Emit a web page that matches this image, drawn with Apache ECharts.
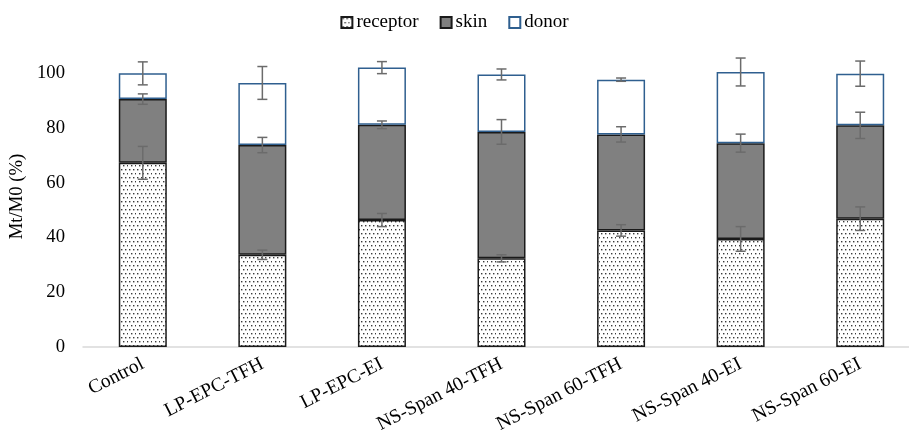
<!DOCTYPE html>
<html><head><meta charset="utf-8">
<script src="https://cdn.jsdelivr.net/npm/echarts@6/dist/echarts.min.js"></script>
<style>html,body{margin:0;padding:0;background:#fff}#c{width:909px;height:435px}</style>
</head><body><div id="c"></div>
<script>
const categories = ['Control','LP-EPC-TFH','LP-EPC-EI','NS-Span 40-TFH','NS-Span 60-TFH','NS-Span 40-EI','NS-Span 60-EI'];
const receptor = [67.3, 33.7, 46.4, 32.4, 42.6, 39.5, 46.9];
const skin     = [23.3, 40.1, 34.8, 46.2, 35.1, 35.0, 34.1];
const donor    = [9.4, 22.7, 20.9, 21.0, 20.0, 26.0, 18.9];
const receptorErr = [6.0, 1.7, 2.4, 1.3, 2.1, 4.5, 4.3];
const skinErr     = [1.9, 2.8, 1.4, 4.5, 2.8, 3.3, 4.8];
const donorErr    = [4.2, 6.0, 2.2, 2.0, 0.6, 5.1, 4.6];
const yTicks = [0, 20, 40, 60, 80, 100];

const FONT = "'Liberation Serif','Times New Roman',serif";

// dotted pattern for receptor
const pc = document.createElement('canvas');
pc.width = 8; pc.height = 8;
const pctx = pc.getContext('2d');
pctx.fillStyle = '#ffffff'; pctx.fillRect(0,0,8,8);
pctx.fillStyle = '#3a3a3a';
[[1,1],[5,1],[3,5],[7,5]].forEach(p => pctx.fillRect(p[0], p[1], 1.4, 1.4));
const dotPattern = { image: pc, repeat: 'repeat' };

function cum(arrs, i) { let s = 0; for (const a of arrs) s += a[i]; return s; }
function errData(arrs, err) {
  return categories.map((c, i) => [i, cum(arrs, i), err[i]]);
}
function errSeries(name, data) {
  return {
    type: 'custom', name: name + '_err', z: 10, silent: true,
    data: data,
    encode: { x: 0, y: 1 },
    renderItem: function (params, api) {
      const x = api.value(0), v = api.value(1), e = api.value(2);
      const hi = api.coord([x, v + e]);
      const lo = api.coord([x, v - e]);
      const w = 5;
      const st = { stroke: '#6b6b6b', lineWidth: 1.5 };
      return { type: 'group', children: [
        { type: 'line', shape: { x1: hi[0], y1: hi[1], x2: lo[0], y2: lo[1] }, style: st },
        { type: 'line', shape: { x1: hi[0]-w, y1: hi[1], x2: hi[0]+w, y2: hi[1] }, style: st },
        { type: 'line', shape: { x1: lo[0]-w, y1: lo[1], x2: lo[0]+w, y2: lo[1] }, style: st }
      ]};
    }
  };
}

const chart = echarts.init(document.getElementById('c'), null, { renderer: 'canvas' });
chart.setOption({
  animation: false,
  backgroundColor: '#fff',
  textStyle: { fontFamily: FONT, color: '#000' },
  legend: {
    top: 8, left: 'center',
    itemWidth: 11, itemHeight: 11, itemGap: 21,
    icon: 'rect',
    textStyle: { fontFamily: FONT, fontSize: 19, color: '#000', padding: [0,0,0,-1] },
    data: ['receptor', 'skin', 'donor']
  },
  grid: { left: 83, right: -11, top: 46, bottom: 88, containLabel: false, outerBoundsMode: 'none' },
  xAxis: {
    type: 'category', data: categories,
    axisLine: { lineStyle: { color: '#d9d9d9', width: 1.5 } },
    axisTick: { show: false },
    axisLabel: { interval: 0, rotate: 27, fontFamily: FONT, fontSize: 19.5, color: '#000', margin: 16 }
  },
  yAxis: {
    type: 'value', min: 0, max: 110, interval: 20,
    name: 'Mt/M0 (%)', nameLocation: 'middle', nameGap: 56,
    nameTextStyle: { fontFamily: FONT, fontSize: 18.67, color: '#000' },
    axisLine: { show: false }, axisTick: { show: false },
    splitLine: { show: false },
    axisLabel: { showMaxLabel: false, fontFamily: FONT, fontSize: 18.67, color: '#000', margin: 18,
      formatter: v => yTicks.includes(v) ? String(v) : '' }
  },
  series: [
    { name: 'receptor', type: 'bar', stack: 'total', barWidth: 48, data: receptor,
      itemStyle: { color: dotPattern, borderColor: '#1a1a1a', borderWidth: 1.5 } },
    { name: 'skin', type: 'bar', stack: 'total', barWidth: 48, data: skin,
      itemStyle: { color: '#808080', borderColor: '#1a1a1a', borderWidth: 1.5 } },
    { name: 'donor', type: 'bar', stack: 'total', barWidth: 48, data: donor,
      itemStyle: { color: '#ffffff', borderColor: '#2f5f8f', borderWidth: 1.5 } },
    errSeries('receptor', errData([receptor], receptorErr)),
    errSeries('skin', errData([receptor, skin], skinErr)),
    errSeries('donor', errData([receptor, skin, donor], donorErr))
  ]
});
</script></body></html>
